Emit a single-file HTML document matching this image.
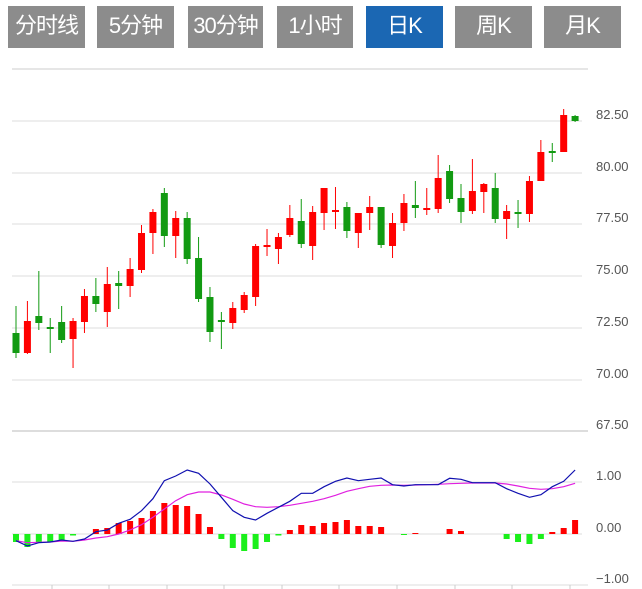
<!DOCTYPE html>
<html><head><meta charset="utf-8"><style>
body{margin:0;width:642px;height:589px;background:#fff;overflow:hidden;font-family:"Liberation Sans","Noto Sans CJK SC",sans-serif}
.b{position:absolute;top:6px;height:42px;background:#8c8c8c;color:#fff;font-size:22px;line-height:40px;text-align:center;white-space:nowrap;letter-spacing:-1px}
.l{position:absolute;left:596px;font-size:13px;color:#555}
</style></head><body>
<div class="b" style="left:8px;width:77px">分时线</div>
<div class="b" style="left:97px;width:77px">5分钟</div>
<div class="b" style="left:188px;width:75px">30分钟</div>
<div class="b" style="left:277px;width:76px">1小时</div>
<div class="b" style="left:366px;width:77px;background:#1b67b3">日K</div>
<div class="b" style="left:455px;width:77px">周K</div>
<div class="b" style="left:544px;width:77px">月K</div>
<div class="l" style="top:107px">82.50</div>
<div class="l" style="top:159px">80.00</div>
<div class="l" style="top:210px">77.50</div>
<div class="l" style="top:262px">75.00</div>
<div class="l" style="top:314px">72.50</div>
<div class="l" style="top:366px">70.00</div>
<div class="l" style="top:417px">67.50</div>
<div class="l" style="top:468px">1.00</div>
<div class="l" style="top:520px">0.00</div>
<div class="l" style="top:571px">−1.00</div>
<svg id="s" width="642" height="589" style="position:absolute;left:0;top:0"></svg>
<script>
var s='';
function ln(x1,y1,x2,y2,c,w){s+='<line x1="'+x1+'" y1="'+y1+'" x2="'+x2+'" y2="'+y2+'" stroke="'+c+'" stroke-width="'+w+'"/>';}
ln(12,69,588,69,'#e6e6e6',2);
[121,173,224,276,328,380].forEach(function(y){ln(12,y,582,y,'#ddd',1)});
ln(12,431,588,431,'#ddd',2);
ln(12,482,582,482,'#ddd',1);ln(12,534,582,534,'#ddd',1);ln(12,585,588,585,'#ddd',1);
[52,109,167,224,282,339,397,455,512,570].forEach(function(x){ln(x,585,x,590,'#ccc',1)});
var C=[['g',333,353,306,358],['r',321,353,301,354],['g',316,323,271,330],['g',328,328,318,353],['g',322,340,306,343],['r',321,339,318,368],['r',296,322,289,333],['g',296,304,278,312],['r',284,312,267,327],['g',283,286,271,309],['r',269,286,258,297],['r',233,270,225,273],['r',212,233,209,254],['g',193,236,188,247],['r',218,236,211,258],['g',218,259,212,264],['g',258,299,237,302],['g',297,332,287,342],['g',321,321,312,349],['r',308,323,302,329],['r',295,310,292,313],['r',246,297,244,306],['r',246,246,229,256],['r',237,249,233,264],['r',218,235,205,237],['g',221,244,199,248],['r',212,246,206,260],['r',188,213,188,230],['r',211,211,187,229],['g',207,231,202,238],['r',213,233,213,248],['r',207,213,196,230],['g',207,245,207,248],['r',223,246,213,258],['r',203,223,194,231],['g',205,208,181,218],['r',209,209,188,215],['r',178,209,155,213],['g',171,199,165,203],['g',198,212,184,223],['r',191,211,159,214],['r',184,192,183,213],['g',188,219,173,223],['r',211,219,205,239],['g',213,213,200,228],['r',181,214,176,222],['r',152,181,140,181],['g',152,152,143,162],['r',115,152,109,152],['g',116,121,115,122]];
function X(i){return 16+i*11.41;}
C.forEach(function(c,i){var col=c[0]=='r'?'#f00':'#129a12';var x=X(i);
ln(x,c[3],x,c[4],col,1);var h=Math.max(c[2]-c[1],2);
s+='<rect x="'+(x-3.5)+'" y="'+(c[2]-c[1]<2?c[1]-1:c[1])+'" width="7" height="'+h+'" fill="'+col+'"/>';});
var H={0:542,1:547,2:543,3:542,4:540,5:535.5,7:529,8:528,9:523,10:521,11:518,12:511,13:503,14:505,15:506,16:514,17:527,18:539,19:548,20:551,21:549,22:542,23:535.5,24:530,25:525,26:526,27:523,28:522,29:520,30:526,31:526,32:527,34:535,35:533,38:529,39:531,43:539,44:542,45:544,46:539,47:532,48:528,49:520};
for(var k in H){var i=+k,y=H[k],x=X(i);if(y>534)s+='<rect x="'+(x-3)+'" y="534" width="6" height="'+(y-534)+'" fill="#1bef1b"/>';else s+='<rect x="'+(x-3)+'" y="'+y+'" width="6" height="'+(534-y)+'" fill="#f00"/>';}
var dif=[362,378,368,366,360,364,357,335,330,310,298,272,236,182,168,150,160,192,232,272,292,300,280,262,244,220,220,200,184,174,182,178,174,194,198,194,194,194,175,178,188,188,188,206,220,232,224,200,184,150];
var dea=[362,368,367,366,363,364,360,354,350,342,330,314,292,267,242,224,216,216,225,238,252,260,262,260,256,250,244,236,226,214,206,199,196,195,196,195,194,193,191,190,189,189,189,192,198,205,208,206,200,190];
function pl(a,c){var p=a.map(function(v,i){return X(i).toFixed(1)+','+(420+v/3).toFixed(1)}).join(' ');s+='<polyline points="'+p+'" fill="none" stroke="'+c+'" stroke-width="1.2"/>';}
pl(dea,'#e020e0');pl(dif,'#1010b0');
document.getElementById('s').innerHTML=s;
</script>
</body></html>
